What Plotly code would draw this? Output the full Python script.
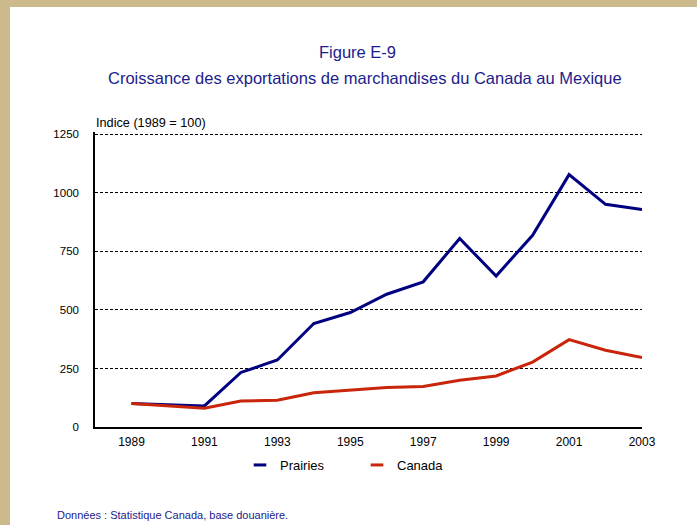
import plotly.graph_objects as go

years = list(range(1989, 2004))
prairies = [100, 95, 90, 233, 286, 442, 489, 567, 620, 805, 645, 819, 1078, 951, 929]
canada = [100, 90, 80, 111, 114, 146, 158, 169, 173, 200, 218, 277, 373, 328, 297]
y_ticks = [0, 250, 500, 750, 1000, 1250]
x_ticks = list(range(1989, 2004, 2))

FONT = "Arial, Liberation Sans, sans-serif"
TITLE_C = "#1C1C8C"
C_PR = "#000080"
C_CA = "#C8250A"

fig = go.Figure()
fig.add_trace(go.Scatter(x=years, y=prairies, mode="lines", name="Prairies",
                         line=dict(color=C_PR, width=3), showlegend=False))
fig.add_trace(go.Scatter(x=years, y=canada, mode="lines", name="Canada",
                         line=dict(color=C_CA, width=3), showlegend=False))
# legend entries with short line symbols
fig.add_trace(go.Scatter(x=[None], y=[None], mode="markers", name="Prairies",
                         marker=dict(symbol="line-ew-open", size=9, color=C_PR,
                                     line=dict(width=3, color=C_PR))))
fig.add_trace(go.Scatter(x=[None], y=[None], mode="markers", name="Canada",
                         marker=dict(symbol="line-ew-open", size=9, color=C_CA,
                                     line=dict(width=3, color=C_CA))))

W, H = 697, 525
L, R, T, B = 95, 55, 132, 98
pw = W - L - R
ph = H - T - B

def px_x(p):
    return (p - L) / pw

def px_y(p):
    return (H - B - p) / ph

fig.update_layout(
    width=W, height=H,
    margin=dict(l=L, r=R, t=T, b=B),
    paper_bgcolor="white", plot_bgcolor="white",
    font=dict(family=FONT, size=12, color="black"),
    showlegend=True,
    legend=dict(orientation="h", x=px_x(240), xanchor="left", y=px_y(465), yanchor="middle",
                font=dict(size=13, color="black", family=FONT), itemwidth=30,
                entrywidth=72, entrywidthmode="pixels",
                bgcolor="rgba(0,0,0,0)"),
    xaxis=dict(range=[1988, 2003], tickvals=x_ticks, ticktext=[str(v) for v in x_ticks],
               showgrid=False, zeroline=False, showline=True, linecolor="black", linewidth=1.5,
               ticks="", tickfont=dict(size=12, color="black"), ticklabelstandoff=3),
    yaxis=dict(range=[0, 1260], tickvals=y_ticks, showgrid=True, gridcolor="black",
               griddash="3px,2px", gridwidth=1, zeroline=False, showline=True,
               linecolor="black", linewidth=1.5, ticks="", tickfont=dict(size=11.5, color="black"),
               ticklabelstandoff=12),
    hovermode=False,
)

fig.add_annotation(text="Figure E-9", xref="paper", yref="paper", x=px_x(357), y=px_y(52),
                   xanchor="center", yanchor="middle", showarrow=False,
                   font=dict(size=16.5, color=TITLE_C, family=FONT))
fig.add_annotation(text="Croissance des exportations de marchandises du Canada au Mexique",
                   xref="paper", yref="paper", x=px_x(365), y=px_y(78),
                   xanchor="center", yanchor="middle", showarrow=False,
                   font=dict(size=16.5, color=TITLE_C, family=FONT))
fig.add_annotation(text="Indice (1989 = 100)", xref="paper", yref="paper", x=px_x(94), y=px_y(123),
                   xanchor="left", yanchor="middle", showarrow=False,
                   font=dict(size=12.7, color="black", family=FONT))
fig.add_annotation(text="Données : Statistique Canada, base douanière.", xref="paper", yref="paper",
                   x=px_x(55), y=px_y(515), xanchor="left", yanchor="middle", showarrow=False,
                   font=dict(size=11, color=TITLE_C, family=FONT))

TAN = "#CCB98C"
fig.add_shape(type="rect", xref="paper", yref="paper", x0=px_x(-5), x1=px_x(10),
              y0=px_y(H + 5), y1=px_y(-5), fillcolor=TAN, line=dict(width=0), layer="above")
fig.add_shape(type="rect", xref="paper", yref="paper", x0=px_x(-5), x1=px_x(W + 5),
              y0=px_y(7), y1=px_y(-5), fillcolor=TAN, line=dict(width=0), layer="above")

fig.write_html("out.html", config={"displayModeBar": False},
               post_script="document.body.style.margin='0';document.body.style.overflow='hidden';")
